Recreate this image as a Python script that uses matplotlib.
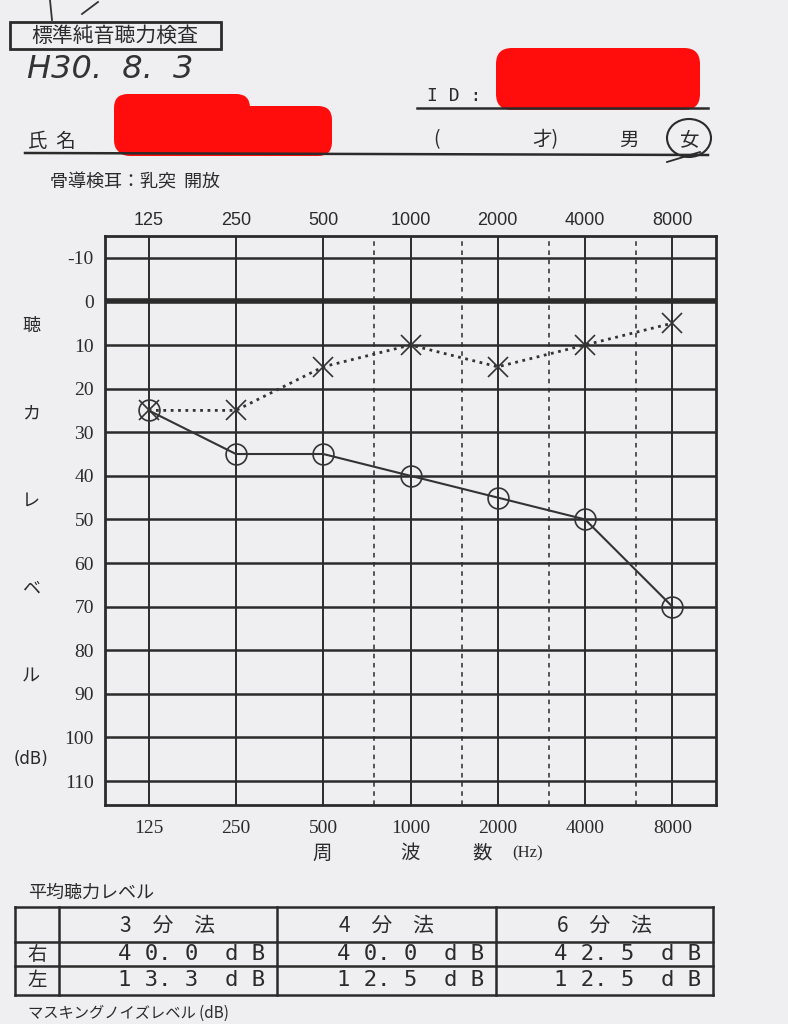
import matplotlib
matplotlib.use('Agg')
import matplotlib.pyplot as plt
from matplotlib.patches import Ellipse, Rectangle, FancyBboxPatch
from matplotlib.ticker import FixedLocator, NullLocator, FixedFormatter

plt.rcParams['font.family'] = ['Noto Sans CJK JP', 'DejaVu Sans']

# audiogram data (dB HL)
freqs = [125, 250, 500, 1000, 2000, 4000, 8000]
freq_labels = ['125', '250', '500', '1000', '2000', '4000', '8000']
half_freqs = [750, 1500, 3000, 6000]
right_ear = [25, 35, 35, 40, 45, 50, 70]
left_ear = [25, 25, 15, 10, 15, 10, 5]
db_ticks = list(range(-10, 111, 10))
ylabel_chars = ['聴', 'カ', 'レ', 'ベ', 'ル']

# average hearing level table
methods = ['3　分　法', '4　分　法', '6　分　法']
ear_names = ['右', '左']
right_avg = [40.0, 40.0, 42.5]
left_avg = [13.3, 12.5, 12.5]

paper = '#efeff1'
ink = '#2b2b2b'
W, H = 788, 1024


def spaced(v):
    a, b = f'{v:.1f}'.split('.')
    return ' '.join(a) + '. ' + b + '  d B'


fig = plt.figure(figsize=(W / 100, H / 100), dpi=100)
fig.patch.set_facecolor(paper)

# page overlay in pixel coords
pg = fig.add_axes([0, 0, 1, 1])
pg.set_xlim(0, W)
pg.set_ylim(H, 0)
pg.axis('off')

# header
pg.add_patch(Rectangle((10, 22), 211, 27, fill=False, lw=2, ec=ink))
pg.text(115, 36, '標準純音聴力検査', fontsize=15, ha='center', va='center', color=ink)
pg.text(27, 70, 'H30.  8.  3', fontsize=23, ha='left', va='center', color='#333',
        family='DejaVu Sans', style='italic', fontweight='light')
pg.plot([50, 52], [0, 20], color='#333', lw=1.3)
pg.plot([82, 98], [14, 2], color='#333', lw=1.3)

# redactions
pg.add_patch(FancyBboxPatch((118, 98), 128, 52, boxstyle='round,pad=4,rounding_size=14',
                            fc='#ff0d0d', ec='none'))
pg.add_patch(FancyBboxPatch((120, 110), 208, 42, boxstyle='round,pad=4,rounding_size=14',
                            fc='#ff0d0d', ec='none'))
pg.add_patch(FancyBboxPatch((500, 52), 196, 54, boxstyle='round,pad=4,rounding_size=16',
                            fc='#ff0d0d', ec='none'))

pg.text(427, 96, 'I D :', fontsize=13, family='DejaVu Sans Mono', ha='left', va='center', color=ink)
pg.plot([417, 708], [108, 108], color=ink, lw=1.8)
pg.text(28, 141, '氏  名', fontsize=14, ha='left', va='center', color=ink)
pg.text(437, 140, '(', fontsize=14, ha='center', va='center', color=ink)
pg.text(545, 140, '才)', fontsize=14, ha='center', va='center', color=ink)
pg.text(629, 140, '男', fontsize=14, ha='center', va='center', color=ink)
pg.text(690, 140, '女', fontsize=14, ha='center', va='center', color=ink)
pg.add_patch(Ellipse((689, 138), 44, 38, fill=False, lw=1.5, ec=ink))
pg.plot([667, 700], [162, 152], color=ink, lw=1.3)
pg.plot([25, 708], [153, 155], color=ink, lw=1.8)
pg.text(50, 183, '骨導検耳：乳突  開放', fontsize=13, ha='left', va='center', color=ink)

# y label characters
for i, ch in enumerate(ylabel_chars):
    pg.text(31, 326 + i * 87.5, ch, fontsize=13, ha='center', va='center', color=ink)
pg.text(31, 759, '(dB)', fontsize=12, ha='center', va='center', color=ink, family='DejaVu Sans')

# x label
pg.text(322, 853, '周', fontsize=14, ha='center', va='center', color=ink)
pg.text(410, 853, '波', fontsize=14, ha='center', va='center', color=ink)
pg.text(482, 853, '数', fontsize=14, ha='center', va='center', color=ink)
pg.text(528, 853, '(Hz)', fontsize=12, ha='center', va='center', color=ink, family='Liberation Serif')

# average table
pg.text(28, 893, '平均聴力レベル', fontsize=13, ha='left', va='center', color=ink)
col_x = [15, 59, 277, 496, 713]
row_y = [907, 942, 966, 995]
for yy in row_y:
    pg.plot([col_x[0], col_x[-1]], [yy, yy], color=ink, lw=1.8)
for xx in col_x:
    pg.plot([xx, xx], [row_y[0], row_y[-1]], color=ink, lw=1.8)
for j, m in enumerate(methods):
    pg.text((col_x[j + 1] + col_x[j + 2]) / 2, 925, m, fontsize=15, ha='center', va='center', color=ink)
for i, (name, vals) in enumerate(zip(ear_names, [right_avg, left_avg])):
    yc = (row_y[i + 1] + row_y[i + 2]) / 2
    pg.text(37, yc, name, fontsize=14, ha='center', va='center', color=ink)
    for j, v in enumerate(vals):
        pg.text(col_x[j + 2] - 12, yc, spaced(v), fontsize=16, family='DejaVu Sans Mono',
                ha='right', va='center', color=ink)
pg.text(28, 1013, 'マスキングノイズレベル (dB)', fontsize=11, ha='left', va='center', color=ink)

# audiogram axes
ax = fig.add_axes([105 / W, 1 - 805 / H, 611 / W, 569 / H])
ax.set_facecolor('none')
ax.set_xscale('log', base=2)
ax.set_xlim(125 / 2 ** 0.5, 8000 * 2 ** 0.5)
ax.set_ylim(115.5, -15)

for d in db_ticks:
    ax.axhline(d, color=ink, lw=4 if d == 0 else 1.8, zorder=1)
for f in freqs:
    ax.axvline(f, color=ink, lw=1.4, zorder=1)
for f in half_freqs:
    ax.axvline(f, color=ink, lw=1.1, ls=(0, (3, 3)), zorder=1)

ax.plot(freqs, right_ear, color='#333', lw=1.5, marker='o', ms=15, mfc='none',
        mec='#333', mew=1.2, zorder=3)
ax.plot(freqs, left_ear, color='#333', lw=2, ls=':', marker='x', ms=15,
        mec='#333', mew=1.2, zorder=3)

ax.xaxis.set_major_locator(FixedLocator(freqs))
ax.xaxis.set_major_formatter(FixedFormatter(freq_labels))
ax.xaxis.set_minor_locator(NullLocator())
ax.set_yticks(db_ticks)
ax.set_yticklabels([str(d) for d in db_ticks])
ax.tick_params(axis='both', length=0, colors=ink)
ax.tick_params(axis='x', pad=11)
ax.tick_params(axis='y', pad=8)
for lbl in ax.get_xticklabels():
    lbl.set_fontfamily('Liberation Serif')
    lbl.set_fontsize(14)
for lbl in ax.get_yticklabels():
    lbl.set_fontfamily('Liberation Serif')
    lbl.set_fontsize(14)
for s in ax.spines.values():
    s.set_linewidth(2)
    s.set_color(ink)

# frequency labels along the top
top = ax.secondary_xaxis('top')
top.xaxis.set_major_locator(FixedLocator(freqs))
top.xaxis.set_major_formatter(FixedFormatter(freq_labels))
top.xaxis.set_minor_locator(NullLocator())
top.tick_params(length=0, pad=5, colors=ink)
top.spines['top'].set_visible(False)
for lbl in top.get_xticklabels():
    lbl.set_fontfamily(['Liberation Sans Narrow', 'Liberation Sans'])
    lbl.set_fontsize(13)

fig.savefig('out.png', dpi=100, facecolor=paper)
